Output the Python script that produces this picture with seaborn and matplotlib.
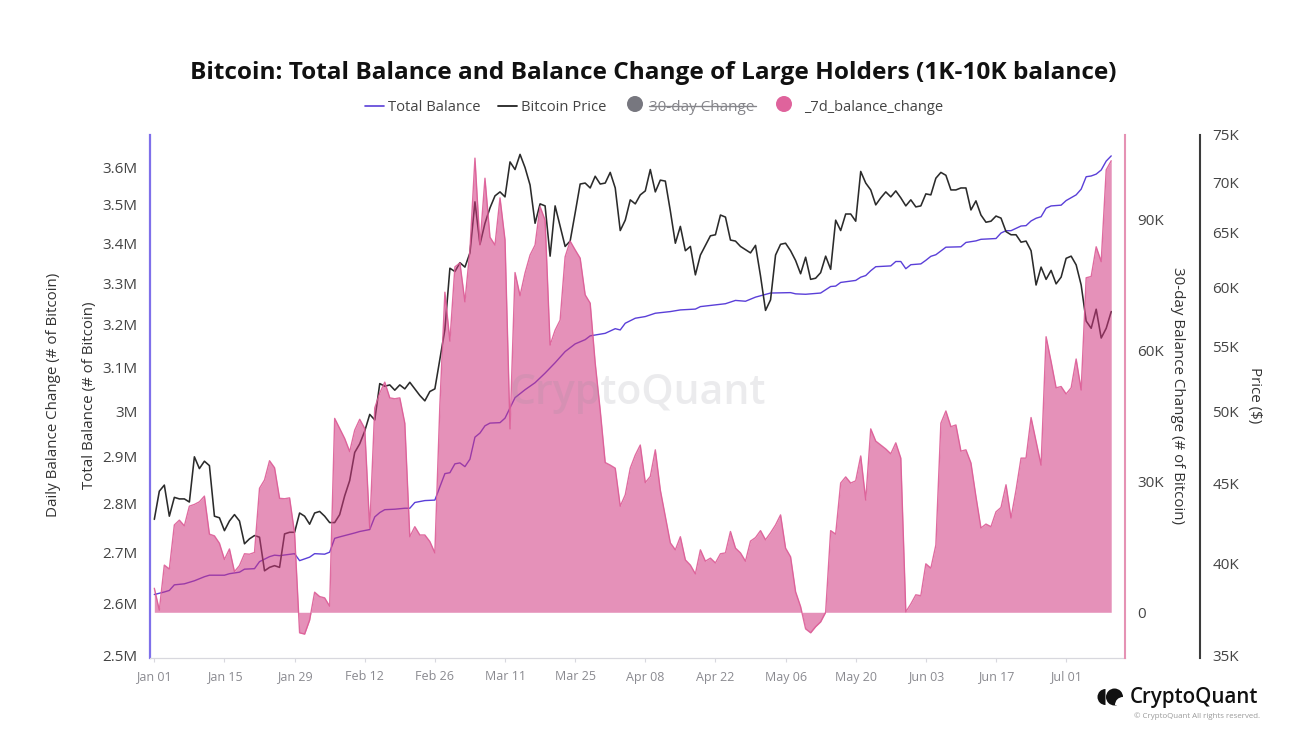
#!/usr/bin/env python3
"""Bitcoin large holders: total balance, price and 7d balance change"""

import matplotlib
matplotlib.use('Agg')
import matplotlib.pyplot as plt
from matplotlib.lines import Line2D
from matplotlib.patches import Circle, Wedge
from matplotlib.ticker import NullLocator
import seaborn as sns
import pandas as pd

# daily 7d balance change, thousands of BTC
balance_change_k = [
    5.5, 0.5, 10.8, 9.9, 20.0, 21.1, 19.8, 24.3, 24.7, 25.3,
    26.6, 17.9, 17.5, 15.8, 12.1, 14.5, 9.3, 10.7, 13.4, 13.3,
    13.7, 28.4, 30.3, 34.7, 33.1, 26.1, 26.0, 26.2, 18.1, -4.7,
    -5.0, -1.8, 4.6, 3.6, 3.3, 1.4, 44.4, 42.1, 39.8, 36.8,
    41.7, 44.2, 42.1, 19.2, 46.8, 50.2, 52.7, 49.1, 48.9, 49.1,
    43.3, 17.3, 19.6, 17.7, 17.7, 16.2, 13.6, 47.5, 73.3, 62.1,
    79.1, 80.0, 71.1, 83.0, 104.0, 84.1, 99.4, 85.9, 84.1, 94.9,
    85.3, 42.0, 77.8, 72.5, 77.7, 81.8, 84.1, 92.9, 89.8, 61.2,
    64.6, 66.9, 81.4, 85.0, 83.0, 81.1, 72.7, 70.8, 57.1, 46.3,
    34.3, 33.7, 33.0, 24.3, 26.9, 33.0, 36.0, 38.3, 29.7, 31.1,
    37.2, 28.0, 21.9, 15.9, 14.3, 17.3, 12.0, 10.8, 8.8, 14.3,
    11.7, 12.4, 11.3, 13.4, 13.6, 18.5, 14.7, 13.6, 11.7, 16.3,
    17.1, 18.7, 16.6, 18.2, 20.0, 22.3, 14.7, 12.7, 4.7, 1.3,
    -3.8, -4.7, -3.3, -2.2, 0.0, 18.7, 17.9, 29.6, 31.0, 29.6,
    30.1, 35.8, 25.7, 42.0, 39.2, 38.3, 37.4, 36.3, 38.8, 35.3,
    0.1, 1.9, 4.0, 3.8, 11.1, 10.1, 15.4, 43.3, 46.1, 42.5,
    42.9, 36.9, 37.2, 34.2, 26.5, 19.3, 20.2, 19.6, 23.0, 24.0,
    29.2, 21.6, 28.0, 35.3, 35.3, 44.6, 39.1, 33.7, 63.1, 57.4,
    51.4, 51.7, 50.0, 51.4, 58.0, 50.9, 76.6, 76.9, 83.7, 80.3, 101.3, 103.4,
]

# daily BTC price, thousands of USD
price_k = [
    42.7, 44.5, 44.9, 42.9, 44.1, 44.0, 44.0, 43.8, 46.8, 46.0,
    46.5, 46.2, 42.9, 42.8, 42.0, 42.6, 43.0, 42.6, 41.2, 41.5,
    41.7, 41.6, 39.6, 39.8, 39.9, 39.8, 41.8, 41.9, 41.9, 43.1,
    42.9, 42.4, 43.1, 43.2, 42.9, 42.5, 42.5, 43.0, 44.2, 45.2,
    47.1, 47.7, 48.6, 49.8, 49.4, 52.1, 51.9, 52.0, 51.6, 52.0,
    51.7, 52.2, 51.7, 51.2, 50.8, 51.5, 51.7, 54.0, 56.4, 61.7,
    61.4, 62.2, 61.8, 63.1, 68.0, 63.9, 65.9, 67.4, 68.6, 69.0,
    68.5, 72.1, 71.3, 72.9, 71.5, 69.7, 65.9, 67.8, 67.6, 62.8,
    67.6, 65.6, 63.7, 64.2, 66.9, 69.8, 69.9, 69.4, 70.6, 69.8,
    69.9, 71.0, 69.4, 65.2, 66.2, 68.2, 67.8, 68.7, 69.1, 71.3,
    69.0, 70.2, 70.1, 67.1, 64.0, 65.6, 63.3, 63.7, 61.1, 62.9,
    63.8, 64.7, 64.8, 66.7, 66.5, 64.3, 64.2, 63.7, 63.4, 63.1,
    63.8, 61.0, 58.0, 58.9, 62.9, 63.9, 64.0, 63.3, 62.4, 61.2,
    62.7, 60.7, 60.8, 61.3, 62.8, 61.6, 66.2, 65.2, 66.8, 66.8,
    66.1, 71.1, 69.9, 69.2, 67.7, 68.4, 69.0, 68.5, 69.1, 68.4,
    67.6, 68.2, 67.5, 67.6, 68.8, 68.7, 70.4, 71.0, 70.7, 69.2,
    69.2, 69.4, 69.4, 67.2, 68.1, 66.7, 66.0, 66.1, 66.6, 66.4,
    65.1, 64.8, 64.8, 64.1, 64.2, 63.3, 60.2, 61.8, 60.7, 61.5,
    60.3, 60.9, 62.6, 62.8, 62.0, 60.2, 57.1, 56.5, 58.1, 55.7, 56.5, 57.9,
]

# total balance read at the kinks of the line, millions of BTC
balance_day = [
    0, 2, 3, 4, 6, 8, 10, 11, 14, 15, 17, 18, 20, 21, 23, 24, 25, 28, 29, 31,
    32, 34, 35, 36, 37, 40, 41, 43, 44, 45, 46, 48, 50, 51, 52, 54, 56, 57, 58, 59,
    60, 61, 62, 63, 64, 65, 66, 67, 69, 70, 71, 72, 74, 76, 78, 80, 82, 84, 86, 87,
    90, 92, 93, 94, 96, 98, 100, 103, 105, 108, 109, 114, 116, 118, 120, 123, 127, 128, 130, 133,
    135, 136, 137, 140, 141, 142, 143, 144, 147, 148, 149, 150, 151, 153, 154, 155, 156, 158, 161, 162,
    164, 165, 168, 169, 170, 171, 173, 174, 175, 176, 177, 178, 179, 181, 182, 184, 185, 186, 187, 188,
    189, 190, 191,
]
balance_m = [
    2.617, 2.622, 2.625, 2.636, 2.638, 2.644, 2.652, 2.655, 2.655, 2.658, 2.661, 2.667, 2.668, 2.682, 2.692, 2.695, 2.694, 2.698, 2.684, 2.691,
    2.698, 2.697, 2.701, 2.729, 2.732, 2.740, 2.743, 2.747, 2.773, 2.782, 2.788, 2.789, 2.791, 2.791, 2.803, 2.807, 2.808, 2.836, 2.864, 2.866,
    2.885, 2.887, 2.879, 2.895, 2.943, 2.952, 2.968, 2.974, 2.975, 2.985, 3.008, 3.031, 3.049, 3.065, 3.087, 3.111, 3.137, 3.155, 3.165, 3.174,
    3.180, 3.191, 3.188, 3.204, 3.216, 3.220, 3.228, 3.232, 3.236, 3.238, 3.244, 3.251, 3.259, 3.257, 3.267, 3.277, 3.278, 3.275, 3.274, 3.277,
    3.293, 3.294, 3.303, 3.308, 3.316, 3.320, 3.332, 3.342, 3.344, 3.355, 3.355, 3.337, 3.347, 3.349, 3.358, 3.368, 3.372, 3.391, 3.392, 3.403,
    3.407, 3.411, 3.413, 3.427, 3.433, 3.433, 3.445, 3.446, 3.458, 3.465, 3.469, 3.491, 3.497, 3.499, 3.511, 3.526, 3.541, 3.574, 3.576, 3.581,
    3.592, 3.616, 3.630,
]

balance_ticks = [2.5, 2.6, 2.7, 2.8, 2.9, 3.0, 3.1, 3.2, 3.3, 3.4, 3.5, 3.6]
balance_tick_labels = ['2.5M', '2.6M', '2.7M', '2.8M', '2.9M', '3M', '3.1M', '3.2M', '3.3M', '3.4M', '3.5M', '3.6M']
change_ticks = [0, 30, 60, 90]
change_tick_labels = ['0', '30K', '60K', '90K']
price_ticks = [35, 40, 45, 50, 55, 60, 65, 70, 75]
price_tick_labels = ['35K', '40K', '45K', '50K', '55K', '60K', '65K', '70K', '75K']

PURPLE = '#5a3fd8'
PINK = '#d03780'
PINK_LINE = '#dc5c96'
FONT = 'Open Sans'

sns.set_theme(style='white')
plt.rcParams['font.family'] = [FONT, 'DejaVu Sans']

start = pd.Timestamp('2024-01-01')
dates = pd.date_range(start, periods=len(price_k), freq='D')
daily = pd.DataFrame({'date': dates, 'price': price_k, 'change': balance_change_k})
balance = pd.DataFrame({'date': start + pd.to_timedelta(balance_day, unit='D'), 'balance': balance_m})

fig = plt.figure(figsize=(12.93, 7.37), dpi=100, facecolor='white')
ax = fig.add_axes([150 / 1293, (737 - 658) / 737, 975 / 1293, 523 / 737])
ax_price = ax.twinx()
ax_change = ax.twinx()

sns.lineplot(data=balance, x='date', y='balance', ax=ax, color=PURPLE, lw=1.0, zorder=3)
sns.lineplot(data=daily, x='date', y='price', ax=ax_price, color='#2b2b2b', lw=1.15)
ax_change.fill_between(daily['date'], daily['change'], 0, color=PINK, alpha=0.55, lw=0)
sns.lineplot(data=daily, x='date', y='change', ax=ax_change, color=PINK_LINE, lw=1.0, alpha=0.9)

ax.set_yscale('log')
ax.set_ylim(2.496, 3.687)
ax.set_yticks(balance_ticks, balance_tick_labels)
ax_price.set_yscale('log')
ax_price.set_ylim(34.85, 75)
ax_price.set_yticks(price_ticks, price_tick_labels)
ax_change.set_ylim(-10.47, 109.3)
ax_change.set_yticks(change_ticks, change_tick_labels)
for a in (ax, ax_price):
    a.yaxis.set_minor_locator(NullLocator())

x_ticks = pd.date_range(start, periods=14, freq='14D')
ax.set_xlim(start - pd.Timedelta(days=0.86), start + pd.Timedelta(days=193.75))
ax.set_xticks(x_ticks, [d.strftime('%b %d') for d in x_ticks])

for a in (ax, ax_price, ax_change):
    a.set(xlabel='', ylabel='')
    a.patch.set_visible(False)
    for side in a.spines:
        a.spines[side].set_visible(False)

ax.spines['left'].set_visible(True)
ax.spines['left'].set_color('#7f70ea')
ax.spines['left'].set_linewidth(1.6)
ax.spines['bottom'].set_visible(True)
ax.spines['bottom'].set_color('#d8d8de')
ax.spines['bottom'].set_linewidth(0.9)
ax_change.spines['right'].set_visible(True)
ax_change.spines['right'].set_color('#e592b4')
ax_change.spines['right'].set_linewidth(1.5)
ax_price.spines['right'].set_visible(True)
ax_price.spines['right'].set_position(('outward', 54))
ax_price.spines['right'].set_color('#3c3c3c')
ax_price.spines['right'].set_linewidth(1.5)

ax.tick_params(axis='x', bottom=True, length=3, width=0.8, color='#d8d8de', labelsize=9, labelcolor='#8a8a90', pad=6)
ax.tick_params(axis='y', left=False, labelsize=11, labelcolor='#444444', pad=3)
ax_change.tick_params(axis='y', right=False, labelsize=11, labelcolor='#444444', pad=3)
ax_price.tick_params(axis='y', right=False, labelsize=11, labelcolor='#444444', pad=3)

# overlay in picture pixels for title, legend, axis titles and logo
over = fig.add_axes([0, 0, 1, 1], zorder=5)
over.set_xlim(0, 1293)
over.set_ylim(737, 0)
over.axis('off')

over.text(653, 73, 'Bitcoin: Total Balance and Balance Change of Large Holders (1K-10K balance)',
          ha='center', va='center', fontsize=17.6, fontweight='bold', color='#111111')

over.add_line(Line2D([365, 384], [106, 106], color=PURPLE, lw=1.2))
over.text(388, 107, 'Total Balance', va='center', fontsize=10.6, color='#444444')
over.add_line(Line2D([498, 517], [106, 106], color='#222222', lw=1.3))
over.text(521, 107, 'Bitcoin Price', va='center', fontsize=10.6, color='#444444')
over.add_patch(Circle((635, 104), 8, color='#77777f', lw=0))
over.text(649, 107, '30-day Change', va='center', fontsize=11, color='#85858a')
over.add_line(Line2D([649, 756], [106, 106], color='#85858a', lw=1))
over.add_patch(Circle((784, 104), 8, color='#df639c', lw=0))
over.text(804, 107, '_7d_balance_change', va='center', fontsize=10.5, color='#444444')

axis_title = dict(va='center', ha='center', fontsize=10.9, color='#333333')
over.text(54, 395, 'Daily Balance Change (# of Bitcoin)', rotation=90, **axis_title)
over.text(90, 395, 'Total Balance (# of Bitcoin)', rotation=90, **axis_title)
over.text(1177, 395, '30-day Balance Change (# of Bitcoin)', rotation=270, **axis_title)
over.text(1254.5, 395, 'Price ($)', rotation=270, **axis_title)

# watermark stays faint over the pink area too
over.text(638, 393, 'CryptoQuant', ha='center', va='center', fontsize=29.5, fontweight='semibold', color='#8c8c9a', alpha=0.17)

over.add_patch(Wedge((1105.5, 697), 8, 90, 270, color='#111111', lw=0))
over.add_patch(Circle((1114.5, 697), 8.5, color='#111111', lw=0))
over.add_patch(Wedge((1123, 705), 8, 180, 270, color='white', lw=0))
over.text(1130, 697, 'CryptoQuant', va='center', fontsize=14.8, fontweight='semibold', color='#111111')
over.text(1260, 716, '© CryptoQuant All rights reserved.', va='center', ha='right', fontsize=5.7, color='#9a9a9a')

fig.savefig('out.png', dpi=100, facecolor='white')
